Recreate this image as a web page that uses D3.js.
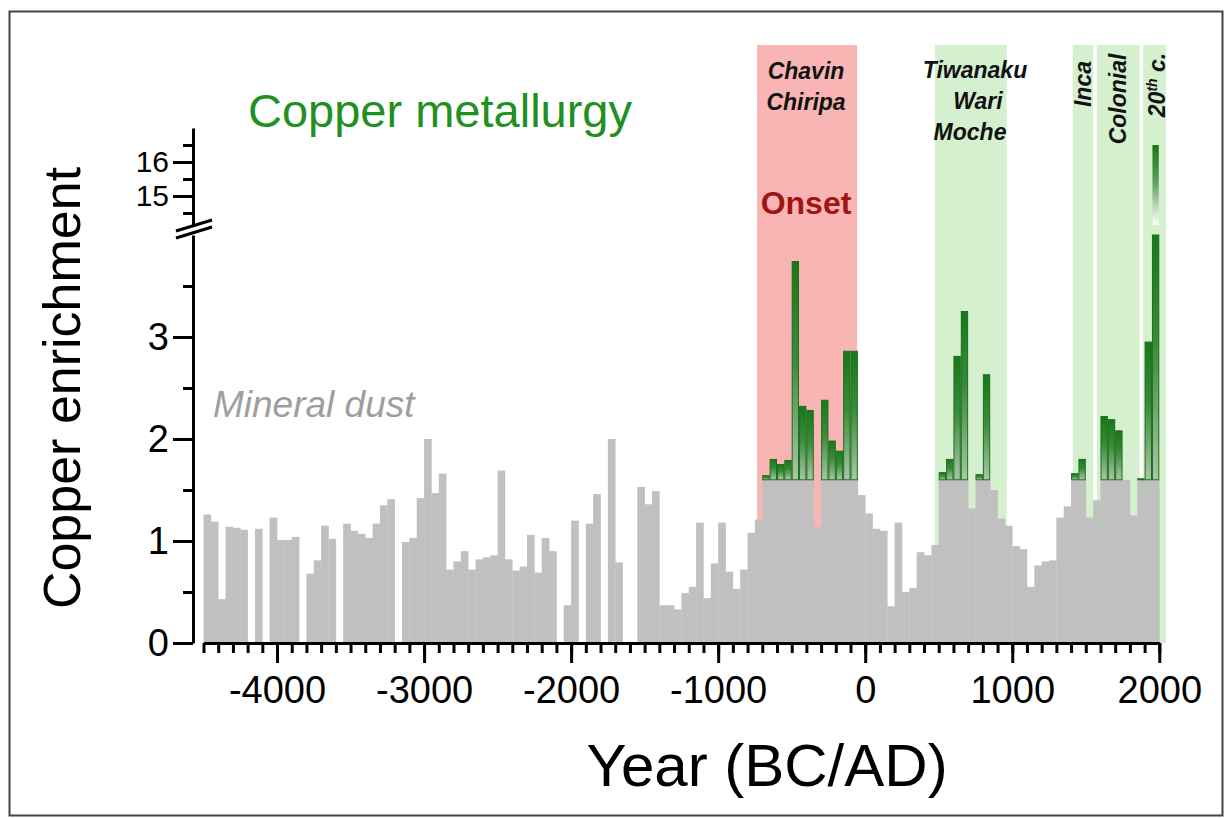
<!DOCTYPE html>
<html>
  <head>
    <meta charset="utf-8">
    <style>
      body {
        margin: 0;
        background: #fff;
      }
      svg {
        display: block;
        font-family: "Liberation Sans", Arial, sans-serif;
      }
      .axis path, .axis line {
        stroke: #000;
        stroke-width: 3px;
        fill: none;
      }
      .axis text {
        font-size: 38px;
        fill: #000;
      }
      .axis.upper text {
        font-size: 30px;
      }
      .period {
        font-size: 23px;
        font-weight: bold;
        font-style: italic;
        fill: #111;
      }
    </style>
  </head>
  <body>
    <svg></svg>
    <script src="https://cdnjs.cloudflare.com/ajax/libs/d3/7.8.5/d3.min.js"></script>
    <script>
      // 50-year bins, first bin starts at 4500 BC
      var binStart = -4500,
          binWidth = 50;

      // mineral dust part of each bin (grey)
      var dust = [
        1.26, 1.19, 0.43, 1.14, 1.13, 1.11, 0, 1.12, 0, 1.23,
        1.01, 1.01, 1.04, 0, 0.68, 0.81, 1.15, 1.02, 0, 1.17,
        1.10, 1.07, 1.03, 1.17, 1.35, 1.41, 0, 0.99, 1.03, 1.42,
        2.00, 1.47, 1.66, 0.72, 0.80, 0.90, 0.72, 0.82, 0.84, 0.86,
        1.69, 0.82, 0.71, 0.75, 1.06, 0.69, 1.03, 0.90, 0, 0.37,
        1.20, 0, 1.17, 1.46, 0, 2.00, 0.79, 0, 0, 1.53,
        1.36, 1.49, 0.37, 0.37, 0.33, 0.49, 0.55, 1.18, 0.44, 0.78,
        1.18, 0.70, 0.53, 0.72, 1.08, 1.21, 1.6, 1.6, 1.6, 1.6,
        1.6, 1.6, 1.6, 1.14, 1.6, 1.6, 1.6, 1.6, 1.6, 1.45,
        1.27, 1.12, 1.10, 0.36, 1.18, 0.50, 0.54, 0.89, 0.86, 0.96,
        1.6, 1.6, 1.6, 1.6, 1.32, 1.6, 1.6, 1.50, 1.22, 1.15,
        0.95, 0.92, 0.55, 0.76, 0.80, 0.81, 1.23, 1.34, 1.6, 1.6,
        1.23, 1.40, 1.6, 1.6, 1.6, 1.6, 1.25, 1.6, 1.6, 1.6
      ];

      // copper enrichment above the dust level (green)
      var copperYears  = [-700, -650, -600, -550, -500, -450, -400, -300, -250, -200, -150, -100,
                          500, 550, 600, 650, 750, 800, 1400, 1450, 1600, 1650, 1700, 1850, 1900, 1950];
      var copperValues = [1.64, 1.80, 1.75, 1.79, 3.74, 2.32, 2.28, 2.38, 1.98, 1.88, 2.86, 2.86,
                          1.67, 1.80, 2.81, 3.25, 1.65, 2.63, 1.66, 1.80, 2.22, 2.19, 2.08, 1.61, 2.95, 16.5];
      var dustCap = 1.6;

      // cultural periods (background bands)
      var bandStart = [-735, 475, 1411, 1575, 1890];
      var bandEnd   = [-55, 962, 1550, 1866, 2045];
      var bandFill  = ['#f9b4b4', '#d5f0cf', '#d5f0cf', '#d5f0cf', '#d5f0cf'];

      var xMajor = [-4000, -3000, -2000, -1000, 0, 1000, 2000];
      var yLowMajor = [0, 1, 2, 3];
      var yLowMinor = [0.5, 1.5, 2.5, 3.5];
      var yHighMajor = [15, 16];
      var yHighMinor = [14.5, 15.5, 16.5];

      var svg = d3.select('svg').attr('width', 1225).attr('height', 818);

      var x = d3.scaleLinear().domain([-4500, 2000]).range([203.5, 1159.3]),
          yLow = d3.scaleLinear().domain([0, 4]).range([643, 235]),
          yHigh = d3.scaleLinear().domain([14, 17]).range([230, 128]);

      var defs = svg.append('defs');
      var g1 = defs.append('linearGradient').attr('id', 'cuGrad')
        .attr('x1', 0).attr('y1', 0).attr('x2', 0).attr('y2', 1);
      g1.append('stop').attr('offset', '0%').attr('stop-color', '#187818');
      g1.append('stop').attr('offset', '45%').attr('stop-color', '#3a8c3a');
      g1.append('stop').attr('offset', '100%').attr('stop-color', '#a9c6a9');
      var g2 = defs.append('linearGradient').attr('id', 'cuFade')
        .attr('x1', 0).attr('y1', 0).attr('x2', 0).attr('y2', 1);
      g2.append('stop').attr('offset', '0%').attr('stop-color', '#187818');
      g2.append('stop').attr('offset', '45%').attr('stop-color', '#5a9e5a');
      g2.append('stop').attr('offset', '100%').attr('stop-color', '#ffffff');

      // frame
      svg.append('rect')
        .attr('x', 9.5).attr('y', 11.5).attr('width', 1213).attr('height', 804)
        .style('fill', 'none').style('stroke', '#444').style('stroke-width', 2);

      // bands
      svg.append('g').selectAll('rect')
        .data(bandStart)
        .join('rect')
        .attr('x', function(d) { return x(d); })
        .attr('width', function(d, i) { return x(bandEnd[i]) - x(d); })
        .attr('y', 45)
        .attr('height', 643 - 45)
        .style('fill', function(d, i) { return bandFill[i]; });

      // grey dust bars
      svg.append('g').selectAll('rect')
        .data(dust)
        .join('rect')
        .attr('x', function(d, i) { return x(binStart + i * binWidth); })
        .attr('width', function(d, i) { return x(binStart + (i + 1) * binWidth) - x(binStart + i * binWidth) + 0.3; })
        .attr('y', function(d) { return yLow(d); })
        .attr('height', function(d) { return yLow(0) - yLow(d); })
        .style('fill', '#c0c0c0');

      // green copper bars (lower part)
      var bw = x(binWidth) - x(0);
      svg.append('g').selectAll('rect')
        .data(copperValues)
        .join('rect')
        .attr('x', function(d, i) { return x(copperYears[i]) + 0.5; })
        .attr('width', bw - 1)
        .attr('y', function(d) { return yLow(Math.min(d, 4)); })
        .attr('height', function(d) { return yLow(dustCap) - yLow(Math.min(d, 4)); })
        .style('fill', 'url(#cuGrad)')
        .style('stroke', '#1d6e1d')
        .style('stroke-width', 1);

      // values above the axis break
      svg.append('g').selectAll('rect')
        .data(copperValues.filter(function(d) { return d > 4; }))
        .join('rect')
        .attr('x', function(d) { return x(copperYears[copperValues.indexOf(d)]) + 0.5; })
        .attr('width', bw - 1)
        .attr('y', function(d) { return yHigh(d); })
        .attr('height', function(d) { return yHigh(14.15) - yHigh(d); })
        .style('fill', 'url(#cuFade)');

      // plain hyphen for negatives, as in the original figure
      var fmt = function(d) { return String(d); };

      // x axis
      svg.append('g').attr('class', 'axis')
        .attr('transform', 'translate(0,643)')
        .call(d3.axisBottom(x).tickValues(d3.range(-4500, 2001, 100)).tickSize(10).tickSizeOuter(0).tickFormat(''));
      svg.append('g').attr('class', 'axis')
        .attr('transform', 'translate(0,643)')
        .call(d3.axisBottom(x).tickValues(xMajor).tickSize(20).tickSizeOuter(0).tickPadding(13).tickFormat(fmt))
        .select('.domain').remove();

      // y axis, lower segment
      svg.append('g').attr('class', 'axis')
        .attr('transform', 'translate(193,0)')
        .call(d3.axisLeft(yLow).tickValues(yLowMinor).tickSize(10).tickSizeOuter(0).tickFormat(''));
      svg.append('g').attr('class', 'axis')
        .attr('transform', 'translate(193,0)')
        .call(d3.axisLeft(yLow).tickValues(yLowMajor).tickSize(20).tickSizeOuter(0).tickPadding(4).tickFormat(fmt))
        .select('.domain').remove();

      // y axis, upper segment
      svg.append('g').attr('class', 'axis')
        .attr('transform', 'translate(193,0)')
        .call(d3.axisLeft(yHigh).tickValues(yHighMinor).tickSize(10).tickSizeOuter(0).tickFormat(''));
      svg.append('g').attr('class', 'axis upper')
        .attr('transform', 'translate(193,0)')
        .call(d3.axisLeft(yHigh).tickValues(yHighMajor).tickSize(20).tickSizeOuter(0).tickPadding(4).tickFormat(fmt))
        .select('.domain').remove();

      // axis break
      svg.append('path')
        .attr('d', 'M176,238L212,227L212,220L176,231Z')
        .style('fill', '#fff');
      svg.append('path')
        .attr('d', 'M176,238L212,227M176,231L212,220')
        .style('stroke', '#000').style('stroke-width', 3).style('fill', 'none');

      // titles
      svg.append('text')
        .attr('transform', 'translate(80,388)rotate(-90)')
        .attr('text-anchor', 'middle')
        .style('font-size', '52px')
        .text('Copper enrichment');
      svg.append('text')
        .attr('x', 767).attr('y', 786)
        .attr('text-anchor', 'middle')
        .style('font-size', '60px')
        .text('Year (BC/AD)');
      svg.append('text')
        .attr('x', 248).attr('y', 127)
        .style('font-size', '47px').style('fill', '#22901f')
        .text('Copper metallurgy');
      svg.append('text')
        .attr('x', 213).attr('y', 417)
        .style('font-size', '37px').style('font-style', 'italic').style('fill', '#9e9e9e')
        .text('Mineral dust');
      svg.append('text')
        .attr('x', 806).attr('y', 214)
        .attr('text-anchor', 'middle')
        .style('font-size', '32px').style('font-weight', 'bold').style('fill', '#a01414')
        .text('Onset');

      // period labels
      var hLabels = [['Chavin', 806, 79], ['Chiripa', 806, 110],
                     ['Tiwanaku', 975, 78], ['Wari', 978, 109], ['Moche', 970, 140]];
      svg.append('g').selectAll('text')
        .data(hLabels)
        .join('text')
        .attr('class', 'period')
        .attr('x', function(d) { return d[1]; })
        .attr('y', function(d) { return d[2]; })
        .attr('text-anchor', 'middle')
        .text(function(d) { return d[0]; });

      svg.append('text').attr('class', 'period')
        .attr('transform', 'translate(1091,84)rotate(-90)')
        .attr('text-anchor', 'middle')
        .text('Inca');
      svg.append('text').attr('class', 'period')
        .attr('transform', 'translate(1126,99)rotate(-90)')
        .attr('text-anchor', 'middle')
        .text('Colonial');
      var c20 = svg.append('text').attr('class', 'period')
        .attr('transform', 'translate(1165,85)rotate(-90)')
        .attr('text-anchor', 'middle');
      c20.append('tspan').text('20');
      c20.append('tspan').attr('dy', -8).style('font-size', '14px').text('th');
      c20.append('tspan').attr('dy', 8).text(' c.');
    </script>
  </body>
</html>
